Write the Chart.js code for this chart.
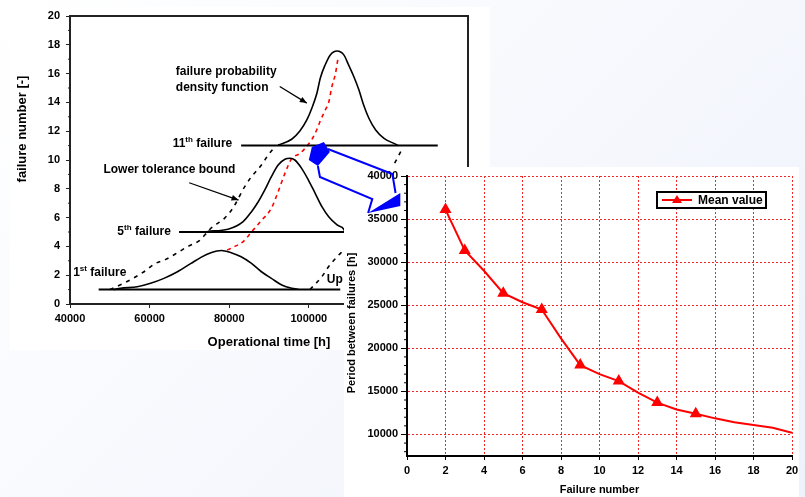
<!DOCTYPE html>
<html>
<head>
<meta charset="utf-8">
<script src="https://cdn.jsdelivr.net/npm/chart.js@4.4.0/dist/chart.umd.min.js"></script>
<style>
  html, body { margin: 0; padding: 0; }
  body {
    width: 805px; height: 497px; overflow: hidden; position: relative;
    background: linear-gradient(135deg, #ffffff 0%, #f6f8fd 55%, #edf2fb 100%);
  }
  canvas { position: absolute; left: 0; top: 0; }
</style>
</head>
<body>
<canvas id="chart-time" width="805" height="497"></canvas>
<canvas id="chart-period" width="805" height="497"></canvas>
<script>
// ---- left chart : failure number vs operational time ----
const timeTicks = [40000, 60000, 80000, 100000, 120000, 140000];
const failureTicks = [0, 2, 4, 6, 8, 10, 12, 14, 16, 18, 20];

const failureLevels = [1, 5, 11];
const levelStart = [47200, 67400, 83000];
const levelEnd = [107900, 109200, 132400];

const pdfFirst = [[51000, 1.0], [52700, 1.09], [56900, 1.2], [60250, 1.44], [63600, 1.78], [67000, 2.24],
  [70400, 2.82], [72900, 3.24], [75400, 3.56], [78000, 3.72], [80500, 3.56], [83000, 3.28],
  [85600, 2.82], [88100, 2.24], [90600, 1.78], [93200, 1.32], [95700, 1.09], [97400, 1.02]];
const pdfFifth = [[74600, 5.05], [79700, 5.19], [83500, 5.72], [85600, 6.41], [87300, 7.1], [88950, 7.92],
  [90600, 8.84], [92300, 9.65], [94000, 10.05], [95300, 10.12], [96500, 10.0], [98200, 9.42],
  [99900, 8.61], [101600, 7.69], [103300, 6.76], [105000, 6.06], [107100, 5.49], [108800, 5.19], [109000, 5.05]];
const pdfEleventh = [[92300, 11.04], [95700, 11.44], [97800, 12.03], [99500, 12.78], [100760, 13.6],
  [102000, 14.6], [102900, 15.7], [104100, 16.6], [105400, 17.3], [107100, 17.57], [108800, 17.3],
  [110000, 16.6], [111300, 15.8], [112600, 14.86], [113800, 13.8], [115100, 12.9], [116800, 12.08],
  [118900, 11.5], [121800, 11.1], [122500, 11.0]];
const meanCurve = [[79500, 3.75], [81300, 3.98], [83500, 4.33], [85600, 5.0], [88100, 5.8], [90600, 6.65],
  [92300, 7.8], [94000, 9.07], [95700, 10.1], [97800, 10.46], [100700, 11.4], [102000, 12.1],
  [103000, 12.8], [104200, 13.5], [105000, 14.0], [105800, 15.1], [106700, 16.0], [107300, 17.0]];
const lowerBound = [[50000, 1.0], [53500, 1.44], [58600, 2.24], [61500, 2.82], [64050, 3.1], [67000, 3.56],
  [69500, 3.98], [72500, 4.4], [74600, 5.02], [75400, 5.26], [78800, 5.95], [80900, 6.65],
  [83900, 8.15], [85600, 8.84], [88100, 9.65], [89800, 10.35], [91500, 10.92]];
const upperBound = [[100300, 1.0], [103300, 1.9], [105000, 2.6], [107500, 3.4], [109200, 3.9],
  [113000, 5.8], [117500, 7.9], [121800, 9.9], [123500, 10.8]];

// ---- right chart : period between failures ----
const failureNumbers = [2, 3, 4, 5, 6, 7, 8, 9, 10, 11, 12, 13, 14, 15, 16, 17, 18, 19, 20];
const meanPeriod = [36100, 31350, 29000, 26400, 25350, 24500, 21150, 18050, 17000, 16200,
  14850, 13700, 12900, 12400, 11870, 11420, 11100, 10780, 10200];
const markedFailures = [2, 3, 5, 7, 9, 11, 13, 15];
const failureAxisTicks = [0, 2, 4, 6, 8, 10, 12, 14, 16, 18, 20];
const periodTicks = [10000, 15000, 20000, 25000, 30000, 35000, 40000];

const FONT = "'Liberation Sans', Arial, sans-serif";
Chart.defaults.font.family = FONT;
Chart.defaults.font.size = 11;
Chart.defaults.font.weight = 'bold';
Chart.defaults.color = '#000';

function toPoints(pairs) {
  return pairs.map(p => ({ x: p[0], y: p[1] }));
}

function curve(pairs, color, dash) {
  return {
    data: toPoints(pairs), showLine: true, borderColor: color, borderWidth: 1.6,
    borderDash: dash || [], pointRadius: 0, cubicInterpolationMode: 'monotone', fill: false
  };
}

function arrowHead(ctx, x1, y1, x2, y2, len, half) {
  const a = Math.atan2(y2 - y1, x2 - x1);
  ctx.beginPath();
  ctx.moveTo(x2, y2);
  ctx.lineTo(x2 - len * Math.cos(a) + half * Math.sin(a), y2 - len * Math.sin(a) - half * Math.cos(a));
  ctx.lineTo(x2 - len * Math.cos(a) - half * Math.sin(a), y2 - len * Math.sin(a) + half * Math.cos(a));
  ctx.closePath();
  ctx.fill();
}

// text with superscript pieces, e.g. 11th
function drawParts(ctx, x, y, parts) {
  let cx = x;
  parts.forEach(p => {
    const sup = p[1];
    ctx.font = sup ? 'bold 8px ' + FONT : 'bold 12px ' + FONT;
    ctx.fillText(p[0], cx, sup ? y - 4 : y);
    cx += ctx.measureText(p[0]).width;
  });
}

// labels and pointers of the left chart (in data units)
const notes = [
  { parts: [['failure probability']], x: 66600, y: 16.1 },
  { parts: [['density function']], x: 66600, y: 15.05 },
  { parts: [['11'], ['th', 1], [' failure']], x: 65800, y: 11.1 },
  { parts: [['Lower tolerance bound']], x: 48400, y: 9.3 },
  { parts: [['5'], ['th', 1], [' failure']], x: 51900, y: 5.0 },
  { parts: [['1'], ['st', 1], [' failure']], x: 40800, y: 2.15 },
  { parts: [['Up']], x: 104500, y: 1.67 }
];
const pointers = [
  { from: [92700, 15.1], to: [99500, 13.95] },
  { from: [69950, 8.42], to: [82350, 7.22] }
];

const timeDecor = {
  id: 'timeDecor',
  beforeDraw(chart) {
    const { ctx, chartArea: a } = chart;
    ctx.save();
    ctx.fillStyle = '#fff';
    ctx.fillRect(a.left - 60, a.top - 9, a.right - a.left + 82, a.bottom - a.top + 55);
    ctx.restore();
  },
  afterDraw(chart) {
    const { ctx, chartArea: a, scales } = chart;
    const sx = scales.x, sy = scales.y;
    ctx.save();
    // top and right frame
    ctx.strokeStyle = '#222';
    ctx.lineWidth = 2;
    ctx.beginPath();
    ctx.moveTo(a.left, a.top);
    ctx.lineTo(a.right, a.top);
    ctx.lineTo(a.right, a.bottom);
    ctx.stroke();
    // minor ticks on y
    ctx.lineWidth = 1;
    for (let v = 1; v < 20; v += 2) {
      const py = sy.getPixelForValue(v);
      ctx.beginPath(); ctx.moveTo(a.left - 2, py); ctx.lineTo(a.left, py); ctx.stroke();
    }
    // y title
    ctx.fillStyle = '#000';
    ctx.font = 'bold 13px ' + FONT;
    ctx.textAlign = 'center';
    ctx.textBaseline = 'middle';
    ctx.translate(a.left - 48, a.top + 113);
    ctx.rotate(-Math.PI / 2);
    ctx.fillText('failure number [-]', 0, 0);
    ctx.setTransform(1, 0, 0, 1, 0, 0);
    // annotations
    ctx.textAlign = 'left';
    notes.forEach(n => drawParts(ctx, sx.getPixelForValue(n.x), sy.getPixelForValue(n.y), n.parts));
    ctx.strokeStyle = '#000';
    ctx.lineWidth = 1.3;
    pointers.forEach(p => {
      const x1 = sx.getPixelForValue(p.from[0]), y1 = sy.getPixelForValue(p.from[1]);
      const x2 = sx.getPixelForValue(p.to[0]), y2 = sy.getPixelForValue(p.to[1]);
      ctx.setLineDash([]);
      ctx.beginPath(); ctx.moveTo(x1, y1); ctx.lineTo(x2, y2); ctx.stroke();
      arrowHead(ctx, x1, y1, x2, y2, 7, 3);
    });
    ctx.restore();
  }
};

const timeDatasets = failureLevels.map((lvl, i) => ({
  data: [{ x: levelStart[i], y: lvl }, { x: levelEnd[i], y: lvl }],
  showLine: true, borderColor: '#000', borderWidth: 2, pointRadius: 0
}));
timeDatasets.push(curve(pdfFirst, '#000'));
timeDatasets.push(curve(pdfFifth, '#000'));
timeDatasets.push(curve(pdfEleventh, '#000'));
timeDatasets.push(curve(meanCurve, '#ff0000', [4, 4]));
timeDatasets.push(curve(lowerBound, '#000', [4, 5]));
timeDatasets.push(curve(upperBound, '#000', [4, 5]));

const chartTime = new Chart(document.getElementById('chart-time'), {
  type: 'scatter',
  data: { datasets: timeDatasets },
  options: {
    responsive: false,
    animation: false,
    layout: { padding: { left: 0, top: 16, right: 337, bottom: 143 } },
    plugins: { legend: { display: false }, tooltip: { enabled: false } },
    scales: {
      x: {
        type: 'linear', min: 40000, max: 140000,
        afterBuildTicks: s => { s.ticks = timeTicks.map(v => ({ value: v })); },
        afterFit: s => { s.height = 50; },
        ticks: { callback: v => String(v), padding: 4, maxRotation: 0, font: { size: 11, weight: 'bold' } },
        grid: { drawOnChartArea: false, tickLength: 4, tickColor: '#222' },
        border: { color: '#222', width: 2 },
        title: { display: true, text: 'Operational time [h]', font: { size: 13, weight: 'bold' }, padding: { top: 0, bottom: 4 } }
      },
      y: {
        min: 0, max: 20,
        afterBuildTicks: s => { s.ticks = failureTicks.map(v => ({ value: v })); },
        afterFit: s => { s.width = 70; },
        ticks: { callback: v => String(v), padding: 6 },
        grid: { drawOnChartArea: false, tickLength: 4, tickColor: '#222' },
        border: { color: '#222', width: 2 }
      }
    }
  },
  plugins: [timeDecor]
});

// ---- right chart ----
const periodDecor = {
  id: 'periodDecor',
  beforeDraw(chart) {
    const { ctx, chartArea: a } = chart;
    ctx.save();
    ctx.fillStyle = '#fff';
    ctx.fillRect(a.left - 63, a.top - 9, a.right - a.left + 70, chart.height - a.top + 9);
    ctx.restore();
  },
  afterDatasetsDraw(chart) {
    // legend box
    const { ctx, chartArea: a } = chart;
    const ds = chart.data.datasets[0];
    const w = 109, h = 16;
    const x = a.right - 26 - w, y = a.top + 16;
    ctx.save();
    ctx.fillStyle = '#fff';
    ctx.fillRect(x, y, w, h);
    ctx.strokeStyle = '#000';
    ctx.lineWidth = 2;
    ctx.strokeRect(x, y, w, h);
    ctx.strokeStyle = ds.borderColor;
    ctx.beginPath(); ctx.moveTo(x + 5, y + h / 2); ctx.lineTo(x + 35, y + h / 2); ctx.stroke();
    ctx.fillStyle = ds.borderColor;
    ctx.beginPath();
    ctx.moveTo(x + 20, y + h / 2 - 5);
    ctx.lineTo(x + 25, y + h / 2 + 3);
    ctx.lineTo(x + 15, y + h / 2 + 3);
    ctx.closePath(); ctx.fill();
    ctx.fillStyle = '#000';
    ctx.font = 'bold 12px ' + FONT;
    ctx.textBaseline = 'middle';
    ctx.fillText(ds.label, x + 41, y + h / 2 + 0.5);
    ctx.restore();
  },
  afterDraw(chart) {
    const { ctx, chartArea: a, scales } = chart;
    ctx.save();
    // minor ticks
    ctx.strokeStyle = '#000';
    ctx.lineWidth = 1;
    for (let v = 8000; v < 40000; v += 1000) {
      if (v % 5000 === 0) continue;
      const py = scales.y.getPixelForValue(v);
      ctx.beginPath(); ctx.moveTo(a.left - 3, py); ctx.lineTo(a.left, py); ctx.stroke();
    }
    // y title
    ctx.fillStyle = '#000';
    ctx.font = 'bold 11px ' + FONT;
    ctx.textAlign = 'center';
    ctx.textBaseline = 'middle';
    ctx.translate(a.left - 55, a.top + 147);
    ctx.rotate(-Math.PI / 2);
    ctx.fillText('Period between failures [h]', 0, 0);
    ctx.setTransform(1, 0, 0, 1, 0, 0);
    // blue arrow linking both charts, placed with the left chart's scales
    const tx = v => chartTime.scales.x.getPixelForValue(v);
    const ty = v => chartTime.scales.y.getPixelForValue(v);
    const poly = (pts, fill) => {
      ctx.beginPath();
      pts.forEach((p, i) => i ? ctx.lineTo(tx(p[0]), ty(p[1])) : ctx.moveTo(tx(p[0]), ty(p[1])));
      if (fill) { ctx.closePath(); ctx.fill(); } else { ctx.stroke(); }
    };
    ctx.strokeStyle = '#0000ff';
    ctx.fillStyle = '#0000ff';
    ctx.lineWidth = 2;
    poly([[100760, 10.9], [103800, 11.25], [105300, 10.56], [102280, 9.58], [100000, 10.0]], true);
    poly([[104800, 10.76], [121000, 9.03], [121800, 7.71]]);
    poly([[102280, 9.58], [102800, 8.82], [115950, 7.29], [114900, 6.32]]);
    poly([[114900, 6.32], [123000, 7.71], [123000, 6.81]], true);
    ctx.restore();
  }
};

new Chart(document.getElementById('chart-period'), {
  type: 'scatter',
  data: {
    datasets: [{
      label: 'Mean value',
      data: failureNumbers.map((n, i) => ({ x: n, y: meanPeriod[i] })),
      showLine: true,
      borderColor: '#ff0000',
      backgroundColor: '#ff0000',
      borderWidth: 2,
      pointStyle: 'triangle',
      pointRadius: c => markedFailures.includes(failureNumbers[c.dataIndex]) ? 5 : 0,
      tension: 0
    }]
  },
  options: {
    responsive: false,
    animation: false,
    layout: { padding: { left: 340, top: 176, right: 13, bottom: 0 } },
    plugins: { legend: { display: false }, tooltip: { enabled: false } },
    scales: {
      x: {
        type: 'linear', min: 0, max: 20,
        afterBuildTicks: s => { s.ticks = failureAxisTicks.map(v => ({ value: v })); },
        afterFit: s => { s.height = 41; },
        ticks: { callback: v => String(v), padding: 4, maxRotation: 0 },
        grid: { color: '#f02828', lineWidth: 1, tickLength: 4, tickColor: '#000' },
        border: { color: '#000', width: 2, dash: [2, 2] },
        title: { display: true, text: 'Failure number', font: { size: 11, weight: 'bold' }, padding: { top: 0, bottom: 0 } }
      },
      y: {
        min: 7500, max: 40000,
        afterBuildTicks: s => { s.ticks = periodTicks.map(v => ({ value: v })); },
        afterFit: s => { s.width = 67; },
        ticks: { callback: v => String(v), padding: 3 },
        grid: { color: '#f02828', lineWidth: 1, tickLength: 6, tickColor: '#000' },
        border: { color: '#000', width: 2, dash: [2, 2] }
      }
    }
  },
  plugins: [periodDecor]
});
</script>
</body>
</html>
